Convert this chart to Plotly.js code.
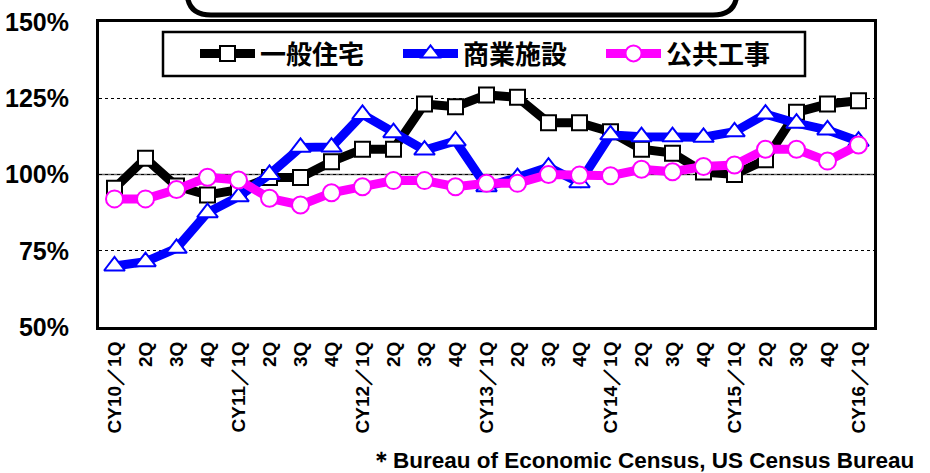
<!DOCTYPE html>
<html>
<head>
<meta charset="utf-8">
<script src="https://cdn.plot.ly/plotly-3.0.1.min.js"></script>
<style>html,body{margin:0;padding:0;background:#fff;}#chart{width:930px;height:473px;}</style>
</head>
<body>
<div id="chart"></div>
<script>
// ---- data ----
const quarters = [
  'CY10/1Q','CY10/2Q','CY10/3Q','CY10/4Q',
  'CY11/1Q','CY11/2Q','CY11/3Q','CY11/4Q',
  'CY12/1Q','CY12/2Q','CY12/3Q','CY12/4Q',
  'CY13/1Q','CY13/2Q','CY13/3Q','CY13/4Q',
  'CY14/1Q','CY14/2Q','CY14/3Q','CY14/4Q',
  'CY15/1Q','CY15/2Q','CY15/3Q','CY15/4Q',
  'CY16/1Q'
];
const tickLabels = [
  'CY10／1Q','2Q','3Q','4Q',
  'CY11／1Q','2Q','3Q','4Q',
  'CY12／1Q','2Q','3Q','4Q',
  'CY13／1Q','2Q','3Q','4Q',
  'CY14／1Q','2Q','3Q','4Q',
  'CY15／1Q','2Q','3Q','4Q',
  'CY16／1Q'
];
const seriesNames = ['一般住宅', '商業施設', '公共工事'];
const residential = [95.5,105.3,96.2,93.3,95,99,99,104.2,108.3,108.3,123.1,122.2,126.1,125.3,117,117,114,108.3,107,100.8,100,104.8,120.4,123.1,124.2];
const commercial  = [70,71.4,75.8,87.5,92.7,100,108.9,109,119.7,113.7,108,111,96,99,102.4,97.3,113,112.4,112.4,112.2,114,119.8,116.8,114.6,110.9];
const publicWorks = [92,92,95.1,99.1,98.2,92.2,90,94,96,98,98,96,97.1,97.1,100,99.8,99.6,101.7,100.9,102.6,103.1,108.3,108.3,104.4,109.7];
const yTicks = [50,75,100,125,150];
const footnote = '＊Bureau of Economic Census, US Census Bureau';

// ---- layout helpers (pixel -> paper) ----
const L = 99, R = 874, T = 22, B = 327, W = 930, H = 473;
const px = x => (x - L) / (R - L);
const py = y => (B - y) / (B - T);

const traces = [
  {x: quarters, y: residential, name: seriesNames[0], type: 'scatter', mode: 'lines+markers',
   line: {color: '#000000', width: 9},
   marker: {symbol: 'square', size: 15, color: '#ffffff', line: {color: '#000000', width: 2}}},
  {x: quarters, y: commercial, name: seriesNames[1], type: 'scatter', mode: 'lines+markers',
   line: {color: '#0000ff', width: 9},
   marker: {symbol: 'triangle-up', size: 18, color: '#ffffff', line: {color: '#0000ff', width: 2}}},
  {x: quarters, y: publicWorks, name: seriesNames[2], type: 'scatter', mode: 'lines+markers',
   line: {color: '#ff00ff', width: 9},
   marker: {symbol: 'circle', size: 17, color: '#ffffff', line: {color: '#ff00ff', width: 2}}}
];

const r = 24;
const titlePath = `M${px(187)},${py(-40)} L${px(187)},${py(15 - r)} Q${px(187)},${py(15)} ${px(187 + r)},${py(15)} ` +
  `L${px(737 - r)},${py(15)} Q${px(737)},${py(15)} ${px(737)},${py(15 - r)} L${px(737)},${py(-40)} Z`;

const layout = {
  width: W, height: H,
  margin: {l: L, r: W - R, t: T, b: H - B},
  paper_bgcolor: '#ffffff', plot_bgcolor: '#ffffff',
  showlegend: true,
  legend: {
    orientation: 'h', x: px(195), xanchor: 'left', y: py(30), yanchor: 'top',
    bgcolor: 'rgba(0,0,0,0)', borderwidth: 0,
    font: {family: 'Noto Sans CJK JP', size: 26, color: '#000', weight: 'bold'},
    entrywidth: 133, entrywidthmode: 'pixels', itemwidth: 55,
    traceorder: 'normal'
  },
  xaxis: {
    type: 'category', range: [-0.5, quarters.length - 0.5],
    tickvals: quarters, ticktext: tickLabels, tickangle: -90,
    tickfont: {family: 'Liberation Sans', size: 19, color: '#000', weight: 'bold'},
    showgrid: false, zeroline: false, ticks: '',
    showline: true, linecolor: '#000', linewidth: 3, mirror: true,
    ticklabelstandoff: 4, fixedrange: true
  },
  yaxis: {
    range: [50, 150], tickvals: yTicks, ticktext: yTicks.map(v => v + '%'),
    tickfont: {family: 'Liberation Sans', size: 25, color: '#000', weight: 'bold'},
    showgrid: true, gridcolor: '#000', gridwidth: 1, griddash: 'dot',
    zeroline: false, ticks: '',
    showline: true, linecolor: '#000', linewidth: 3, mirror: true,
    ticklabelstandoff: 22, fixedrange: true
  },
  shapes: [
    {type: 'line', xref: 'paper', x0: 0, x1: 1, yref: 'y', y0: 100, y1: 100,
     line: {color: '#666', width: 1.5}, layer: 'below'},
    {type: 'rect', xref: 'paper', yref: 'paper', x0: px(163), x1: px(805), y0: py(76), y1: py(32),
     line: {color: '#000', width: 2.5}, fillcolor: '#ffffff', layer: 'above'},
    {type: 'path', xref: 'paper', yref: 'paper', path: titlePath,
     line: {color: '#000', width: 5}, fillcolor: '#ffffff', layer: 'above'}
  ],
  annotations: [
    {text: footnote, xref: 'paper', yref: 'paper', x: px(916), y: py(460),
     xanchor: 'right', yanchor: 'middle', showarrow: false,
     font: {family: 'Liberation Sans', size: 22.5, color: '#000', weight: 'bold'}}
  ]
};

Plotly.newPlot('chart', traces, layout, {displayModeBar: false, staticPlot: true});
</script>
</body>
</html>
